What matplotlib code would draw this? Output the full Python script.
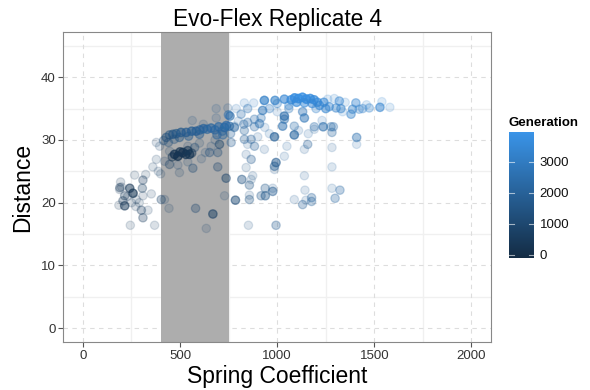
"""
Scatter of spring coefficient vs distance, coloured by generation (Evo-Flex replicate 4).
"""

import numpy as np
import matplotlib
matplotlib.use("Agg")
import matplotlib.pyplot as plt
from matplotlib.colors import LinearSegmentedColormap, Normalize
from matplotlib.cm import ScalarMappable

plt.rcParams['font.family'] = ['Liberation Sans', 'DejaVu Sans']

# Values: (spring coefficient, distance, generation, overlapping copies)
points = [
    # early, low-spring cluster
    (194, 23.3, 500, 1), (190, 22.4, 500, 2), (241, 22.3, 400, 4), (258, 21.5, 350, 5),
    (215, 21.1, 450, 2), (206, 20.3, 500, 2), (185, 19.6, 500, 1), (215, 19.5, 400, 4),
    (272, 19.4, 600, 1), (266, 24.4, 700, 1), (309, 23.6, 600, 2), (323, 24.5, 700, 1),
    (306, 22.3, 700, 2), (309, 21.1, 600, 1), (352, 21.4, 800, 1), (275, 20.5, 700, 1),
    (335, 18.8, 800, 1), (301, 18.8, 600, 2), (309, 17.6, 600, 2), (244, 16.4, 700, 1),
    (369, 16.4, 800, 1), (199, 22.5, 500, 1), (189, 22.1, 500, 1), (230, 21.0, 500, 1),
    (250, 20.0, 600, 1), (290, 20.0, 700, 1),
    # scattered points inside the shaded band
    (403, 20.5, 900, 2), (420, 20.5, 900, 1), (443, 19.1, 900, 1), (580, 19.1, 1000, 2),
    (669, 18.2, 800, 4), (635, 15.9, 1000, 1), (729, 21.1, 1200, 1), (737, 23.9, 900, 3),
    (694, 25.7, 1000, 2), (575, 28.8, 1100, 2), (566, 25.5, 1100, 2), (497, 24.8, 900, 1),
    (446, 26.1, 800, 2), (489, 26.0, 1000, 1), (360, 25.7, 900, 1), (378, 26.9, 900, 1),
    (420, 26.6, 1000, 1), (446, 28.2, 900, 1), (395, 29.0, 1000, 1), (378, 29.6, 1000, 1),
    (388, 25.0, 900, 1), (400, 24.6, 900, 1), (540, 26.5, 1100, 1), (610, 27.0, 1200, 1),
    (630, 28.0, 1200, 1), (652, 28.0, 1300, 2), (694, 28.0, 1200, 2), (703, 29.3, 900, 3),
    (680, 30.0, 1200, 1), (660, 29.0, 1200, 1), (600, 29.5, 1100, 1), (563, 33.1, 1500, 1),
    (686, 35.0, 1800, 1), (746, 35.1, 1800, 1), (686, 33.5, 1800, 1), (620, 32.5, 1500, 1),
    (540, 29.0, 1000, 1),
    # dark lower cluster
    (472, 27.7, 300, 6), (489, 27.4, 250, 6), (514, 28.0, 300, 6), (530, 27.7, 300, 5),
    (549, 27.7, 350, 5), (500, 28.1, 300, 5), (460, 27.3, 300, 3), (540, 28.3, 350, 4),
    (560, 27.9, 400, 3),
    # rising band inside the shaded area
    (429, 30.4, 1300, 3), (446, 30.8, 1400, 3), (463, 30.9, 1500, 4), (480, 31.0, 1600, 4),
    (497, 30.4, 1500, 3), (505, 31.2, 1700, 5), (532, 31.2, 1800, 5), (544, 30.6, 1700, 3),
    (560, 31.4, 1900, 5), (583, 31.4, 1900, 5), (600, 30.9, 1800, 3), (602, 31.6, 2000, 4),
    (621, 31.8, 2100, 5), (640, 31.7, 2100, 4), (660, 31.9, 2200, 5), (680, 31.6, 2200, 4),
    (699, 32.1, 2300, 5), (718, 31.4, 2200, 3), (729, 32.0, 2300, 5), (738, 32.3, 2400, 5),
    (754, 32.2, 2400, 4), (757, 33.8, 2500, 4), (780, 32.0, 2200, 3), (440, 29.6, 1200, 2),
    (470, 30.1, 1400, 2), (690, 30.8, 2000, 3), (720, 30.8, 2100, 3), (760, 31.0, 2000, 2),
    (415, 29.9, 1200, 2),
    # scattered points right of the band
    (749, 34.0, 2500, 3), (789, 35.0, 2800, 1), (814, 34.1, 2500, 2), (831, 35.9, 3000, 1),
    (848, 35.0, 2700, 2), (879, 35.9, 3000, 1), (883, 33.3, 2500, 2), (917, 33.5, 2600, 2),
    (925, 34.7, 2800, 4), (780, 32.2, 2200, 1), (828, 32.5, 2300, 2), (848, 32.8, 2300, 2),
    (883, 32.1, 2300, 2), (909, 32.6, 2600, 3), (831, 31.5, 2100, 2), (866, 30.1, 2000, 2),
    (831, 30.1, 2000, 2), (848, 29.3, 1900, 1), (883, 29.0, 2000, 2), (763, 29.6, 1800, 2),
    (840, 27.7, 1800, 1), (866, 26.9, 1800, 2), (934, 28.5, 2000, 1), (986, 30.5, 2000, 5),
    (994, 26.4, 1800, 4), (1037, 27.4, 2100, 1), (1037, 33.8, 2500, 5), (1037, 33.3, 2500, 3),
    (1028, 32.2, 2600, 4), (1088, 32.2, 2400, 2), (1140, 33.5, 2800, 4), (1131, 34.5, 2800, 3),
    (1191, 32.1, 2500, 2), (1088, 30.8, 2200, 5), (1140, 28.5, 2000, 1), (1157, 29.3, 2000, 2),
    (1191, 31.7, 2200, 1), (1237, 32.1, 2500, 4), (1277, 32.1, 2400, 2), (1289, 32.1, 2400, 2),
    (1282, 31.2, 2200, 2), (1282, 28.8, 2000, 1), (1409, 30.4, 2600, 3), (1409, 29.3, 2500, 1),
    (1231, 33.1, 2700, 1), (818, 23.7, 1500, 3), (857, 22.8, 1500, 2), (840, 25.6, 1600, 1),
    (874, 24.3, 1700, 1), (866, 23.7, 1600, 1), (986, 25.8, 1800, 3), (986, 25.3, 1800, 1),
    (938, 22.3, 1700, 2), (917, 21.1, 1700, 2), (939, 21.1, 1700, 3), (977, 21.8, 1800, 3),
    (977, 22.3, 1800, 1), (785, 20.4, 1200, 4), (857, 20.5, 1500, 2), (857, 21.2, 1500, 1),
    (1140, 24.3, 2000, 1), (1143, 22.0, 2000, 1), (1088, 20.5, 2000, 1), (1131, 19.7, 2000, 2),
    (1177, 20.8, 2100, 2), (1177, 20.2, 2100, 2), (1148, 20.4, 2000, 1), (852, 16.4, 1500, 1),
    (994, 16.4, 1800, 2), (1282, 25.7, 2200, 1), (1282, 22.3, 2200, 1), (1323, 22.0, 2300, 2),
    (1298, 20.7, 2200, 2), (936, 32.0, 2500, 1), (960, 31.0, 2400, 1), (1050, 29.0, 2200, 1),
    (1110, 31.5, 2300, 1), (1000, 34.5, 2700, 1), (1060, 35.0, 2900, 2), (1160, 31.0, 2300, 1),
    (800, 33.0, 2300, 1), (900, 30.5, 2100, 1),
    # late, top band
    (934, 36.3, 3200, 6), (989, 36.3, 3300, 5), (1037, 36.5, 3500, 5), (1072, 36.4, 3700, 6),
    (1090, 36.7, 3800, 8), (1110, 36.6, 3800, 8), (1130, 36.8, 3900, 8), (1150, 36.5, 3800, 8),
    (1170, 36.6, 3800, 7), (1190, 36.4, 3700, 6), (1207, 36.0, 3700, 5), (1100, 36.0, 3600, 5),
    (1140, 35.9, 3600, 4), (1180, 35.8, 3500, 4), (1218, 35.5, 3500, 4), (1240, 36.0, 3500, 4),
    (1250, 35.0, 3400, 4), (1268, 35.3, 3400, 3), (1320, 36.2, 3400, 3), (1303, 35.1, 3300, 3),
    (1328, 35.0, 3300, 3), (1337, 34.5, 3200, 1), (1294, 36.6, 3300, 1), (1405, 35.9, 3400, 3),
    (1388, 34.9, 3300, 3), (1380, 34.1, 3300, 3), (1422, 34.9, 3300, 2), (1440, 35.0, 3300, 2),
    (1474, 35.1, 3300, 2), (1529, 35.2, 3400, 4), (1539, 36.1, 3400, 1), (1580, 35.2, 3300, 1),
    (1060, 35.5, 3400, 2), (1200, 35.0, 3300, 2), (1000, 35.8, 3100, 2), (960, 35.0, 3000, 2),
    (1260, 36.5, 3400, 1), (1350, 36.0, 3300, 1), (1460, 35.6, 3300, 1),
]

spring = np.array([p[0] for p in points], dtype=float)
distance = np.array([p[1] for p in points], dtype=float)
generation = np.array([p[2] for p in points], dtype=float)
copies = np.array([p[3] for p in points], dtype=int)

band_low, band_high = 400, 750
x_ticks = [0, 500, 1000, 1500, 2000]
y_ticks = [0, 10, 20, 30, 40]
gen_ticks = [0, 1000, 2000, 3000]

# Overlapping individuals are drawn as repeated points, so they stack up darker.
xs = np.repeat(spring, copies)
ys = np.repeat(distance, copies)
gs = np.repeat(generation, copies)

cmap = LinearSegmentedColormap.from_list("gen", ["#132B43", "#3A94E8"])
norm = Normalize(vmin=-100, vmax=3950)

fig = plt.figure(figsize=(5.9, 3.9), dpi=100)
ax = fig.add_axes([0.1076, 0.1223, 0.7244, 0.7964])

ax.set_xlim(-100, 2100)
ax.set_ylim(-2.25, 47.25)

# grid: dashed majors, faint solid minors
for v in [250, 750, 1250, 1750]:
    ax.axvline(v, color="#F0F0F0", lw=1.0, zorder=0)
for v in [5, 15, 25, 35, 45]:
    ax.axhline(v, color="#F0F0F0", lw=1.0, zorder=0)
for v in x_ticks:
    ax.axvline(v, color="#DDDDDD", lw=0.8, ls=(0, (4, 4)), zorder=0.5)
for v in y_ticks:
    ax.axhline(v, color="#DDDDDD", lw=0.8, ls=(0, (4, 4)), zorder=0.5)

ax.axvspan(band_low, band_high, color="#ADADAD", lw=0, zorder=1)

ax.scatter(xs, ys, c=gs, cmap=cmap, norm=norm, s=36, alpha=0.16,
           edgecolors="face", linewidths=0.9, zorder=2)

ax.set_xticks(x_ticks)
ax.set_yticks(y_ticks)
ax.tick_params(length=3.5, width=0.8, color="#555555", labelcolor="#333333",
               labelsize=9.5, pad=2)
for s in ax.spines.values():
    s.set_color("#888888")
    s.set_linewidth(0.8)

ax.set_title("Evo-Flex Replicate 4", fontsize=16.3, pad=4)
ax.set_xlabel("Spring Coefficient", fontsize=16.5, labelpad=2)
ax.set_ylabel("Distance", fontsize=16.5, labelpad=5)

# colourbar in ggplot style
cax = fig.add_axes([0.8627, 0.3385, 0.0424, 0.323])
sm = ScalarMappable(norm=norm, cmap=cmap)
cb = fig.colorbar(sm, cax=cax, ticks=gen_ticks)
cb.outline.set_visible(False)
cax.tick_params(length=0, labelsize=9.5, labelcolor="#111111", pad=4)
for t in gen_ticks:
    cax.plot([0, 0.2], [t, t], color="white", lw=0.8, alpha=0.6, transform=cax.get_yaxis_transform())
    cax.plot([0.8, 1.0], [t, t], color="white", lw=0.8, alpha=0.6, transform=cax.get_yaxis_transform())
fig.text(0.8627, 0.685, "Generation", fontsize=9.5, fontweight="bold", va="center", ha="left")

fig.savefig("out.png", dpi=100)
